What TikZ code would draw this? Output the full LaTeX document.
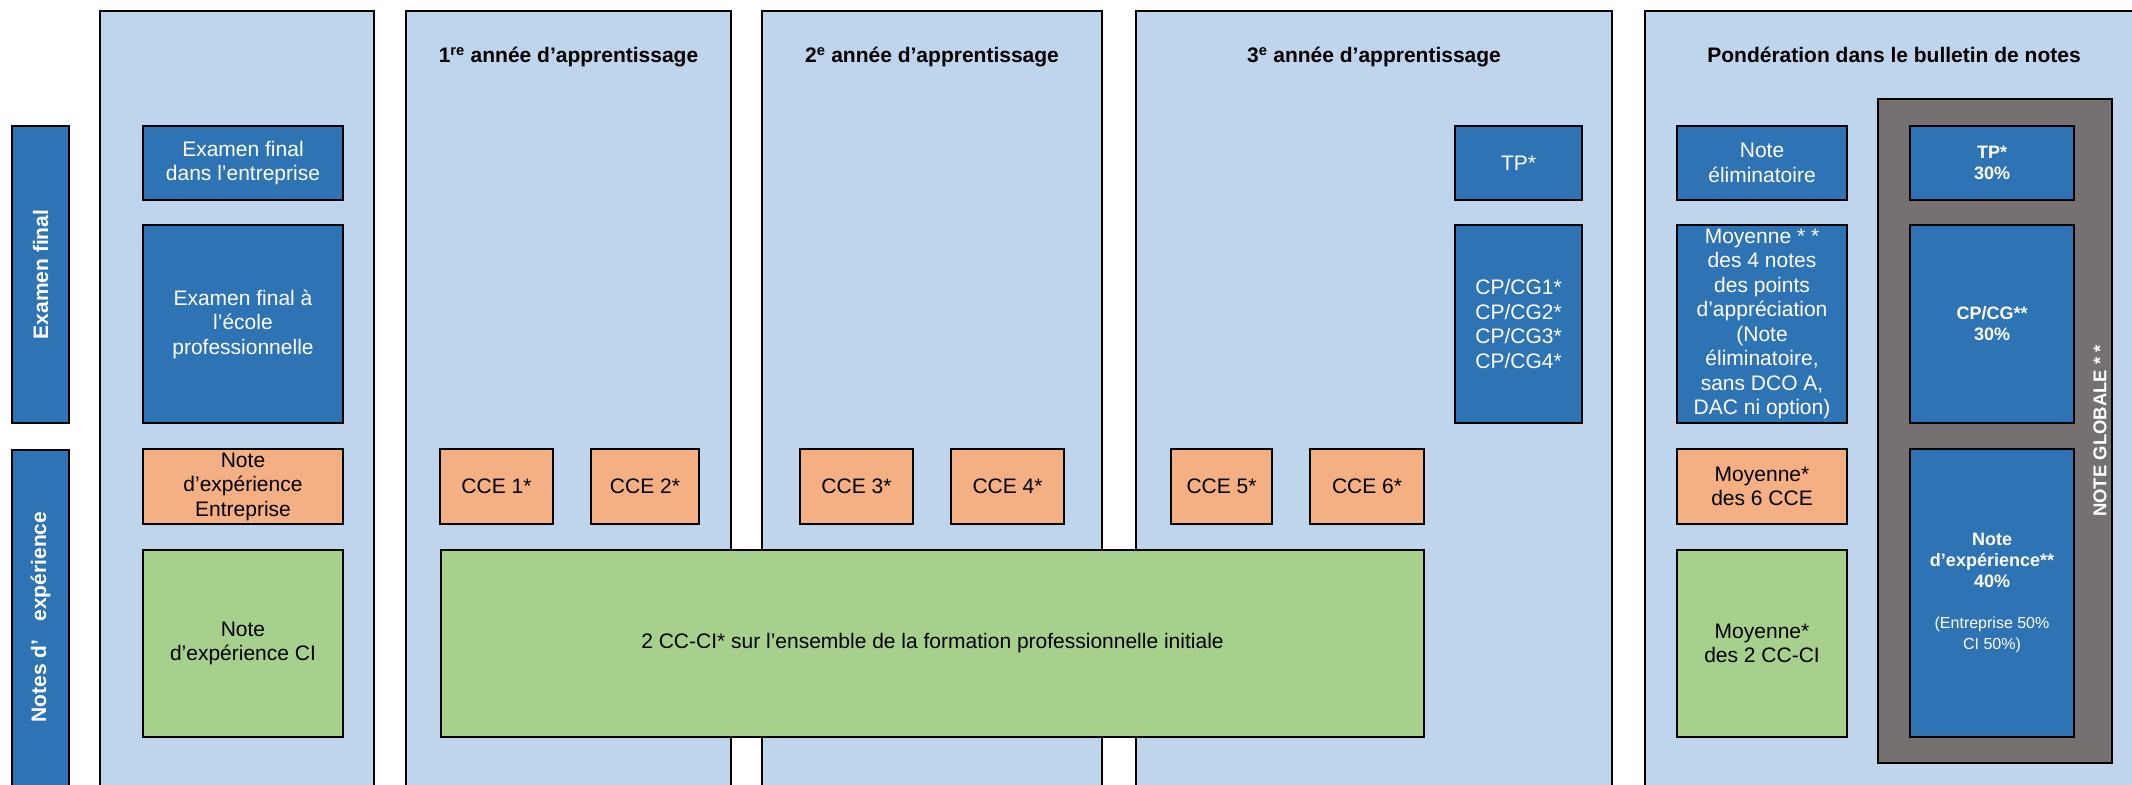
\documentclass[tikz,border=0pt]{standalone}
\usepackage{fontspec}
\setmainfont{Liberation Sans}
\definecolor{lblue}{HTML}{BFD5EB}
\definecolor{dblue}{HTML}{2E73B3}
\definecolor{orng}{HTML}{F4AF83}
\definecolor{grn}{HTML}{A8D08D}
\definecolor{gry}{HTML}{767171}
\begin{document}
\begin{tikzpicture}[x=1pt,y=-1pt,
  every node/.style={inner sep=0pt, outer sep=0pt, align=center},
  sz/.style 2 args={minimum width=#1pt, minimum height=#2pt, anchor=north west},
  col/.style={draw=black, line width=1.6pt, fill=lblue},
  box/.style={draw=black, line width=2pt, font=\fontsize{21}{24.5}\selectfont},
  bluebox/.style={box, fill=dblue, text=white},
  orbox/.style={box, fill=orng, text=black},
  grbox/.style={box, fill=grn, text=black},
  wbold/.style={box, fill=dblue, text=white, font=\bfseries\fontsize{18}{21}\selectfont},
  title/.style={font=\bfseries\fontsize{21}{24}\selectfont, anchor=base},
  vlabel/.style={rotate=90, text=white, font=\bfseries\fontsize{21}{24}\selectfont},
]
\path[use as bounding box, fill=white] (0,0) rectangle (2132,784);

% side bars
\node[bluebox, sz={57}{297}] (barEF) at (12,126) {};
\node[vlabel] (lblEF) at (barEF.center) {Examen final};
\node[bluebox, sz={57}{345}] (barNE) at (12,450) {};
\node[vlabel] (lblNE) at (40.5,617) {Notes d’\hspace{18pt}expérience};

% columns
\node[col, sz={274}{800}] (col1) at (100,11) {};
\node[col, sz={325}{800}] (col2) at (406,11) {};
\node[col, sz={340}{800}] (col3) at (762,11) {};
\node[col, sz={476}{800}] (col4) at (1136,11) {};
\node[col, sz={505}{800}] (col5) at (1645,11) {};

% titles
\node[title] (t2) at (568.5,63) {1\textsuperscript{re} année d’apprentissage};
\node[title] (t3) at (932,63) {2\textsuperscript{e} année d’apprentissage};
\node[title] (t4) at (1374,63) {3\textsuperscript{e} année d’apprentissage};
\node[title] (t5) at (1894,63) {Pondération dans le bulletin de notes};

% column 1
\node[bluebox, sz={200}{74}] (efE) at (143,126) {Examen final\\dans l’entreprise};
\node[bluebox, sz={200}{198}] (efS) at (143,225) {Examen final à\\l’école\\professionnelle};
\node[orbox, sz={200}{75}] (neE) at (143,449) {Note\\d’expérience\\Entreprise};
\node[grbox, sz={200}{187}] (neC) at (143,550) {Note\\d’expérience CI};

% CCE
\node[orbox, sz={113}{75}] (cce1) at (440,449) {CCE 1*};
\node[orbox, sz={108}{75}] (cce2) at (591,449) {CCE 2*};
\node[orbox, sz={113}{75}] (cce3) at (800,449) {CCE 3*};
\node[orbox, sz={113}{75}] (cce4) at (951,449) {CCE 4*};
\node[orbox, sz={101}{75}] (cce5) at (1171,449) {CCE 5*};
\node[orbox, sz={114}{75}] (cce6) at (1310,449) {CCE 6*};
\node[grbox, sz={983}{187}] (ccci) at (441,550) {2 CC-CI* sur l’ensemble de la formation professionnelle initiale};

% column 4
\node[bluebox, sz={127}{74}] (tp) at (1455,126) {TP*};
\node[bluebox, sz={127}{198}] (cpcg) at (1455,225) {CP/CG1*\\CP/CG2*\\CP/CG3*\\CP/CG4*};

% column 5
\node[bluebox, sz={170}{74}] (elim) at (1677,126) {Note\\éliminatoire};
\node[bluebox, sz={170}{198}] (moy4) at (1677,225) {Moyenne * *\\des 4 notes\\des points\\d’appréciation\\(Note\\éliminatoire,\\sans DCO A,\\DAC ni option)};
\node[orbox, sz={170}{75}] (moy6) at (1677,449) {Moyenne*\\des 6 CCE};
\node[grbox, sz={170}{187}] (moy2) at (1677,550) {Moyenne*\\des 2 CC-CI};

\node[draw=black, line width=2pt, fill=gry, sz={234}{664}] (glob) at (1878,99) {};
\node[wbold, sz={164}{74}] (wtp) at (1910,126) {TP*\\30\%};
\node[wbold, sz={164}{198}] (wcp) at (1910,225) {CP/CG**\\30\%};
\node[wbold, sz={164}{288}] (wne) at (1910,449) {Note\\d’expérience**\\40\%\\[20pt]\mdseries\fontsize{16}{19}\selectfont(Entreprise 50\%\\\mdseries\fontsize{16}{19}\selectfont CI 50\%)};
\node[rotate=90, text=white, font=\bfseries\fontsize{18.5}{22}\selectfont] (ng) at (2100,431) {NOTE GLOBALE * *};
\end{tikzpicture}
\end{document}
